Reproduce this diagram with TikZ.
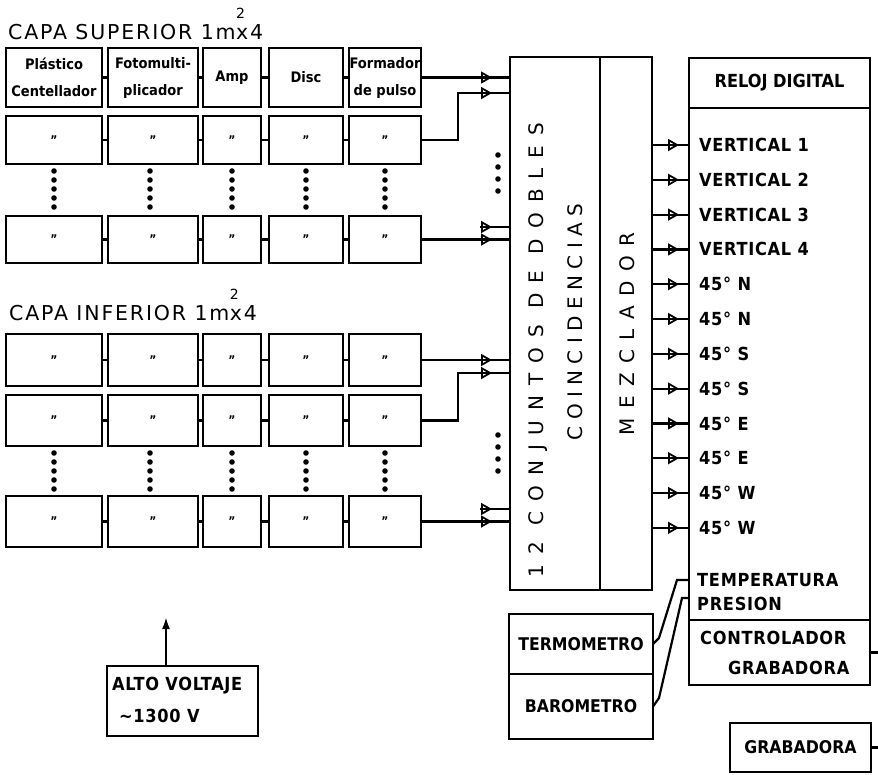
\documentclass[tikz,border=0pt]{standalone}
\usepackage{fontspec}
\setmainfont{DejaVu Sans Condensed}
\newfontfamily\hdfam[LetterSpace=9]{DejaVu Sans}
\newfontfamily\lbfam[LetterSpace=4]{DejaVu Sans Condensed}
\newfontfamily\cofamA[LetterSpace=50]{DejaVu Sans}
\newfontfamily\cofamB[LetterSpace=32]{DejaVu Sans}
\newfontfamily\mzfam[LetterSpace=47]{DejaVu Sans}
\usetikzlibrary{arrows.meta,decorations.markings}
\newcommand\bx[7][]{\node[blk,minimum width={#5-#3},minimum height={#6-#4},#1] (#2) at ({(#3+#5)/2},{(#4+#6)/2}) {#7};}
\tikzset{
  blk/.style={draw, line width=2.2pt, inner sep=0pt, outer sep=0pt, align=center},
  ln/.style={line width=2.2pt},
  bxf/.style={font=\bfseries\fontsize{14.5}{27}\selectfont},
  dit/.style={font=\bfseries\fontsize{12}{12}\selectfont},
  lbl/.style={font=\lbfam\bfseries\fontsize{18}{18}\selectfont, inner sep=0pt},
  bold17/.style={font=\bfseries\fontsize{17.5}{17.5}\selectfont, inner sep=0pt},
  hdr/.style={font=\hdfam\fontsize{20.5}{20.5}\selectfont, inner sep=0pt},
  sup/.style={font=\hdfam\fontsize{14}{14}\selectfont, inner sep=0pt},
  marr/.style={postaction={decorate}, decoration={markings, mark=at position #1 with {\arrow{Triangle[open, length=11pt, width=12pt, line width=1.8pt]}}}},
  dotf/.style={fill=black}
}
\begin{document}
\begin{tikzpicture}[x=1pt,y=-1pt]
\useasboundingbox (0,0) rectangle (878,774);

% headers
\node[hdr, anchor=base west] (hsupA) at (8,39) {CAPA SUPERIOR 1m};
\node[hdr, anchor=base west] (hsupB) at (hsupA.base east) {x4};
\node[sup, anchor=south west] (hsup2) at ([yshift=5pt]hsupB.north west) {2};
\node[hdr, anchor=base west] (hinfA) at (9,320) {CAPA INFERIOR 1m};
\node[hdr, anchor=base west] (hinfB) at (hinfA.base east) {x4};
\node[sup, anchor=south west] (hinf2) at ([yshift=5pt]hinfB.north west) {2};

% row 1
\bx[bxf]{r1c1}{6}{48}{102}{107}{Plástico\\Centellador}
\bx[bxf]{r1c2}{108}{48}{198}{107}{Fotomulti-\\plicador}
\bx[bxf]{r1c3}{203}{48}{261}{107}{Amp}
\bx[bxf]{r1c4}{269}{48}{343}{107}{Disc}
\bx[bxf]{r1c5}{349}{48}{421}{107}{Formador\\de pulso}
\foreach \c [count=\n from 2] in {1,...,4} { \draw[ln] (r1c\c.east) -- (r1c\n.west); }

% other rows
\foreach \r/\ya/\yb in {2/116/164, 3/216/263, 4/334/386, 5/395/446, 6/496/547} {
  \foreach \c/\xa/\xb in {1/6/102, 2/108/198, 3/203/261, 4/269/343, 5/349/421} {
    \bx[dit]{r\r c\c}{\xa}{\ya}{\xb}{\yb}{"}
  }
  \foreach \c [count=\n from 2] in {1,...,4} { \draw[ln] (r\r c\c.east) -- (r\r c\n.west); }
}

% vertical dots
\foreach \cx in {54,150,232,306,385} {
  \foreach \dy in {171,180,...,207} { \fill[dotf] (\cx,\dy) circle[radius=2.8pt]; }
  \foreach \dy in {453,462,...,489} { \fill[dotf] (\cx,\dy) circle[radius=2.8pt]; }
}

% coincidence and mixer
\bx{coinc}{510}{57}{600}{590}{}
\bx{mezc}{600}{57}{652}{590}{}
\node[rotate=90, font=\cofamA\fontsize{20}{20}\selectfont, inner sep=0pt] (tcoA) at (538,350) {12 CONJUNTOS DE DOBLES};
\node[rotate=90, font=\cofamB\fontsize{20}{20}\selectfont, inner sep=0pt] (tcoB) at (575,322) {COINCIDENCIAS};
\node[rotate=90, font=\mzfam\fontsize{20}{20}\selectfont, inner sep=0pt] (tmz) at (627,334) {MEZCLADOR};

% coincidence dots
\foreach \dy in {155,167,179,191} { \fill[dotf] (498,\dy) circle[radius=2.8pt]; }
\foreach \dy in {435,447,459,471} { \fill[dotf] (498,\dy) circle[radius=2.8pt]; }

% connectors into coincidences
\coordinate (k2) at (458,93);
\coordinate (k5) at (458,373);
\coordinate (s3) at (480,227);
\coordinate (s6) at (480,509);
\draw[ln, marr=-18pt] (r1c5.east) -- (r1c5.east -| coinc.west);
\draw[ln, marr=-18pt] (r2c5.east) -| (k2) -- (k2 -| coinc.west);
\draw[ln, marr=-18pt] (r3c5.east) -- (r3c5.east -| coinc.west);
\draw[ln, marr=-18pt] (s3) -- (s3 -| coinc.west);
\draw[ln, marr=-18pt] (r4c5.east) -- (r4c5.east -| coinc.west);
\draw[ln, marr=-18pt] (r5c5.east) -| (k5) -- (k5 -| coinc.west);
\draw[ln, marr=-18pt] (r6c5.east) -- (r6c5.east -| coinc.west);
\draw[ln, marr=-18pt] (s6) -- (s6 -| coinc.west);

% reloj
\bx[font=\bfseries\fontsize{18}{18}\selectfont]{relhdr}{689}{58}{870}{108}{RELOJ DIGITAL}
\bx{body}{689}{108}{870}{620}{}
\foreach \lab [count=\i from 0] in {VERTICAL 1, VERTICAL 2, VERTICAL 3, VERTICAL 4, 45° N, 45° N, 45° S, 45° S, 45° E, 45° E, 45° W, 45° W} {
  \pgfmathsetmacro\yy{145+34.8*\i}
  \coordinate (a\i) at (660,\yy);
  \draw[ln, marr=-10pt] (a\i -| mezc.east) -- (a\i -| body.west);
  \node[lbl, anchor=west] (l\i) at (699,\yy) {\lab};
}
\node[lbl, anchor=west] (ttemp) at (697,580) {TEMPERATURA};
\node[lbl, anchor=west] (tpres) at (697,604) {PRESION};

% controlador
\bx{ctrl}{689}{620}{870}{685}{}
\node[lbl, anchor=west] (tctl1) at (700,638) {CONTROLADOR};
\node[lbl, anchor=west] (tctl2) at (728,668) {GRABADORA};
\coordinate (edgeR) at (878,0);
\draw[ln] (ctrl.east) -- (ctrl.east -| edgeR);

% termometro / barometro
\bx[bold17]{termo}{509}{614}{653}{674}{TERMOMETRO}
\bx[bold17]{baro}{509}{674}{653}{739}{BAROMETRO}
\coordinate (tA) at (677,580);
\coordinate (tB) at (659,638);
\coordinate (bA) at (682,598);
\coordinate (bB) at (659,698);
\draw[ln] (termo.east) -- (tB) -- (tA) -- (tA -| body.west);
\draw[ln] (baro.east) -- (bB) -- (bA) -- (bA -| body.west);

% grabadora
\bx[bold17]{grab}{730}{723}{871}{772}{GRABADORA}
\draw[ln] (grab.east) -- (grab.east -| edgeR);

% alto voltaje
\bx{alto}{107}{666}{258}{736}{}
\node[lbl, anchor=west] (talto1) at (112,686) {ALTO VOLTAJE};
\node[lbl, anchor=west] (talto2) at (119,716) {\textasciitilde1300 V};
\coordinate (hv) at (166,617);
\draw[ln, -{Latex[length=12pt,width=8pt]}] (alto.north -| hv) -- (hv);
\end{tikzpicture}
\end{document}
